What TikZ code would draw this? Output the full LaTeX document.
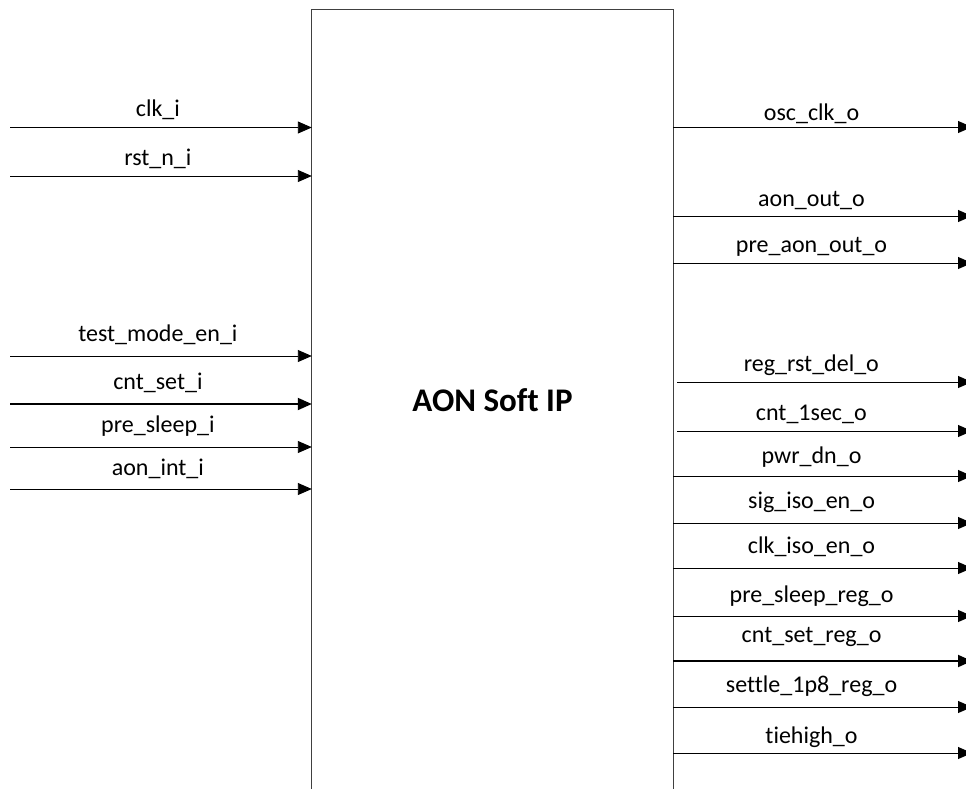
\documentclass[tikz,border=0pt]{standalone}
\usepackage{fontspec}
\setmainfont{Carlito}[Ligatures=NoCommon]
\usepackage{tikz}
\usetikzlibrary{arrows.meta,positioning,calc}
\definecolor{ipEdge}{HTML}{404040}
\definecolor{ipWire}{HTML}{000000}

\begin{document}
\begin{tikzpicture}[
    x=1pt, y=-1pt, >={Triangle[length=14pt,width=12pt]},
    ipbox/.style={rectangle, draw=none, minimum width=361pt, minimum height=780pt, inner sep=0pt, font=\bfseries\fontsize{33}{38}\selectfont},
    boxline/.style={draw=ipEdge, line width=1.2pt},
    lab/.style={font=\fontsize{24}{28}\selectfont, anchor=base, inner sep=0pt},
    sig/.style={->, draw=ipWire, line width=0.9pt},
    bus/.style={sig, line width=1.9pt},
  ]
  \useasboundingbox (0,0) rectangle (966,788);
  \node[ipbox] (ip) at (492.5,400) {AON Soft IP};
  \draw[boxline] (ip.south west) -- (ip.north west) -- (ip.north east) -- (ip.south east);
  % inputs
  \coordinate (clk) at (10,127.5);
  \coordinate (rst) at (10,176);
  \coordinate (tme) at (10,356);
  \coordinate (cset) at (10,404);
  \coordinate (psl) at (10,447);
  \coordinate (aint) at (10,489);
  \draw[sig] (clk) -- (clk -| ip.west) node[lab, pos=.49, yshift=11pt] {clk\_i};
  \draw[sig] (rst) -- (rst -| ip.west) node[lab, pos=.49, yshift=11pt] {rst\_n\_i};
  \draw[sig] (tme) -- (tme -| ip.west) node[lab, pos=.49, yshift=15pt] {test\_mode\_en\_i};
  \draw[bus] (cset) -- (cset -| ip.west) node[lab, pos=.49, yshift=15pt] {cnt\_set\_i};
  \draw[sig] (psl) -- (psl -| ip.west) node[lab, pos=.49, yshift=15pt] {pre\_sleep\_i};
  \draw[sig] (aint) -- (aint -| ip.west) node[lab, pos=.49, yshift=14pt] {aon\_int\_i};
  % outputs
  \coordinate (osc) at (972,127);
  \coordinate (aout) at (972,216);
  \coordinate (paout) at (972,263);
  \coordinate (rrd) at (972,382);
  \coordinate (c1s) at (972,431);
  \coordinate (pdn) at (972,476);
  \coordinate (siso) at (972,523);
  \coordinate (ciso) at (972,568);
  \coordinate (pslr) at (972,616);
  \coordinate (csetr) at (972,661);
  \coordinate (stl) at (972,707);
  \coordinate (tieh) at (972,753);
  \draw[sig] (osc -| ip.east) -- (osc) node[lab, pos=.463, yshift=7pt] {osc\_clk\_o};
  \draw[sig] (aout -| ip.east) -- (aout) node[lab, pos=.463, yshift=10pt] {aon\_out\_o};
  \draw[sig] (paout -| ip.east) -- (paout) node[lab, pos=.463, yshift=11pt] {pre\_aon\_out\_o};
  \draw[sig] ([xshift=4pt]rrd -| ip.east) -- (rrd) node[lab, pos=.455, yshift=11pt] {reg\_rst\_del\_o};
  \draw[sig] ([xshift=4pt]c1s -| ip.east) -- (c1s) node[lab, pos=.455, yshift=11pt] {cnt\_1sec\_o};
  \draw[sig] (pdn -| ip.east) -- (pdn) node[lab, pos=.463, yshift=13pt] {pwr\_dn\_o};
  \draw[sig] (siso -| ip.east) -- (siso) node[lab, pos=.463, yshift=15pt] {sig\_iso\_en\_o};
  \draw[sig] (ciso -| ip.east) -- (ciso) node[lab, pos=.463, yshift=15pt] {clk\_iso\_en\_o};
  \draw[sig] (pslr -| ip.east) -- (pslr) node[lab, pos=.463, yshift=14pt] {pre\_sleep\_reg\_o};
  \draw[bus] (csetr -| ip.east) -- (csetr) node[lab, pos=.463, yshift=19pt] {cnt\_set\_reg\_o};
  \draw[sig] (stl -| ip.east) -- (stl) node[lab, pos=.463, yshift=15pt] {settle\_1p8\_reg\_o};
  \draw[sig] (tieh -| ip.east) -- (tieh) node[lab, pos=.463, yshift=10pt] {tiehigh\_o};
\end{tikzpicture}
\end{document}
